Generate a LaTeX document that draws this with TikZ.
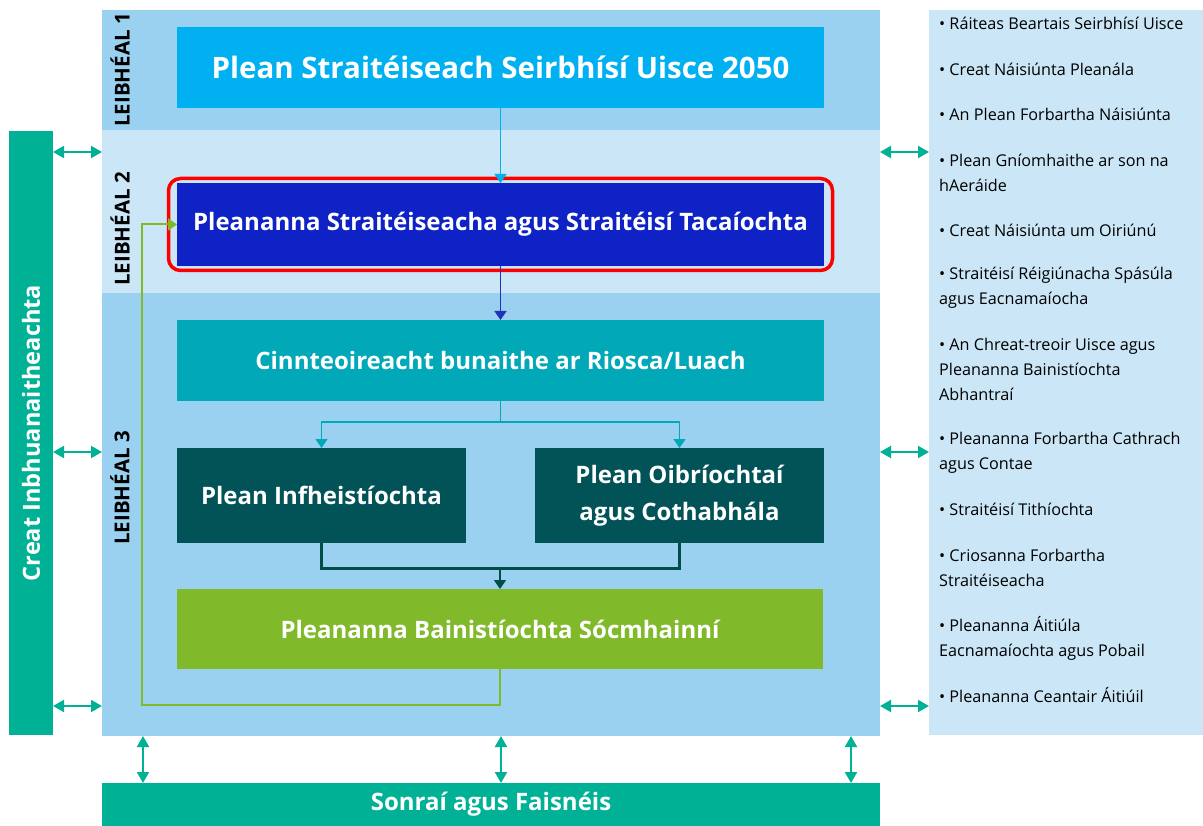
\documentclass[tikz,border=0pt]{standalone}
\usepackage{fontspec}
\setmainfont{Open Sans}
\usetikzlibrary{positioning, arrows.meta}

\definecolor{bandmid}{RGB}{155,209,240}
\definecolor{bandpale}{RGB}{203,231,247}
\definecolor{skyblue}{RGB}{0,176,240}
\definecolor{royal}{RGB}{14,34,197}
\definecolor{royalline}{RGB}{30,50,190}
\definecolor{tealbox}{RGB}{1,168,184}
\definecolor{deepteal}{RGB}{1,83,88}
\definecolor{joinline}{RGB}{1,78,72}
\definecolor{leaf}{RGB}{128,185,42}
\definecolor{seagreen}{RGB}{0,177,150}

\tikzset{
  band/.style={fill=#1, inner sep=0pt, outer sep=0pt, minimum width=778pt, anchor=north west},
  plan/.style={fill=#1, text=white, inner sep=0pt, outer sep=0pt, align=center,
    minimum width=647pt, minimum height=81pt,
    font=\fontsize{24}{37}\selectfont\bfseries},
  levellabel/.style={rotate=90, font=\fontsize{20.5}{22}\selectfont\bfseries},
  listitem/.style={anchor=west, align=left, inner sep=0pt, font=\fontsize{16.2}{25}\selectfont},
  flow/.style={-{Triangle[width=12pt,length=9pt]}, line width=1.5pt},
  twoway/.style={{Triangle[width=12pt,length=11pt]}-{Triangle[width=12pt,length=11pt]}, line width=2pt, seagreen}
}

\begin{document}
\begin{tikzpicture}[x=1pt, y=-1pt]
  \useasboundingbox (0,0) rectangle (1203,826);

  % levels
  \node[band=bandmid, minimum height=120pt] (lvl1) at (102,10) {};
  \node[band=bandpale, minimum height=163pt, below=0pt of lvl1] (lvl2) {};
  \node[band=bandmid, minimum height=443pt, below=0pt of lvl2] (lvl3) {};

  \node[levellabel] (tag1) at (120,70) {LEIBHÉAL 1};
  \node[levellabel] (tag2) at (120,229) {LEIBHÉAL 2};
  \node[levellabel] (tag3) at (120,488) {LEIBHÉAL 3};

  % side and bottom blocks
  \node[fill=seagreen, minimum width=44pt, minimum height=604pt, inner sep=0pt, outer sep=0pt, anchor=north west] (sust) at (9,131) {};
  \node[rotate=90, text=white, font=\fontsize{23.6}{25}\selectfont\bfseries] (sustlabel) at (sust) {Creat Inbhuanaitheachta};
  \node[fill=bandpale, minimum width=274pt, minimum height=725pt, inner sep=0pt, outer sep=0pt, anchor=north west] (refs) at (929,10) {};
  \node[band=seagreen, minimum height=43pt, text=white, font=\fontsize{24}{26}\selectfont\bfseries] (data) at (102,783) {Sonraí agus Faisnéis};

  % plans
  \node[plan=skyblue, font=\fontsize{29.5}{31}\selectfont\bfseries] (strat) at (500.5,67.5) {Plean Straitéiseach Seirbhísí Uisce 2050};
  \node[plan=royal, minimum height=83pt, below=75pt of strat] (support) {Pleananna Straitéiseacha agus Straitéisí Tacaíochta};
  \node[draw=red, line width=3.5pt, rounded corners=12pt, minimum width=664pt, minimum height=92pt] (focus) at (support) {};
  \node[plan=tealbox, below=54pt of support] (risk) {Cinnteoireacht bunaithe ar Riosca/Luach};
  \node[plan=deepteal, minimum width=289pt, minimum height=95pt, below right=47pt and 0pt of risk.south west] (invest) {Plean Infheistíochta};
  \node[plan=deepteal, minimum width=289pt, minimum height=95pt, below left=47pt and 0pt of risk.south east] (ops) {Plean Oibríochtaí\\agus Cothabhála};
  \node[plan=leaf, minimum width=646pt, minimum height=80pt, below right=46pt and 0pt of invest.south west] (assets) {Pleananna Bainistíochta Sócmhainní};

  \draw[flow, skyblue] (strat) -- (support);
  \draw[flow, royalline] (support) -- (risk);
  \draw[flow, tealbox] (risk.south) -- ++(0,21) -| (invest.north);
  \draw[flow, tealbox] (risk.south) -- ++(0,21) -| (ops.north);
  \draw[line width=3pt, joinline] (invest.south) -- ++(0,25) coordinate (merge) -| (ops.south);
  \draw[flow, joinline] (merge -| assets.north) -- (assets.north);
  \draw[flow, leaf, line width=2pt] (assets.south) -- ++(0,36) -| ([xshift=-35pt]support.west) -- (support.west);

  % two-way links
  \foreach \r in {152,452,706} {
    \draw[twoway] (sust.east |- 0,\r) -- (lvl3.west |- 0,\r);
    \draw[twoway] (lvl3.east |- 0,\r) -- (refs.west |- 0,\r);
  }
  \foreach \c in {143,501,851}
    \draw[twoway] (lvl3.south -| \c,0) -- (data.north -| \c,0);

  % policy list
  \foreach \ypos/\entry [count=\i] in {
      23/{• Ráiteas Beartais Seirbhísí Uisce},
      69/{• Creat Náisiúnta Pleanála},
      114/{• An Plean Forbartha Náisiúnta},
      172.5/{• Plean Gníomhaithe ar son na\\hAeráide},
      230/{• Creat Náisiúnta um Oiriúnú},
      287.5/{• Straitéisí Réigiúnacha Spásúla\\agus Eacnamaíocha},
      369/{• An Chreat-treoir Uisce agus\\Pleananna Bainistíochta\\Abhantraí},
      452.5/{• Pleananna Forbartha Cathrach\\agus Contae},
      509/{• Straitéisí Tithíochta},
      567.5/{• Criosanna Forbartha\\Straitéiseacha},
      638/{• Pleananna Áitiúla\\Eacnamaíochta agus Pobail},
      695/{• Pleananna Ceantair Áitiúil}}
    \node[listitem] (ref\i) at (939,\ypos) {\entry};
\end{tikzpicture}
\end{document}
